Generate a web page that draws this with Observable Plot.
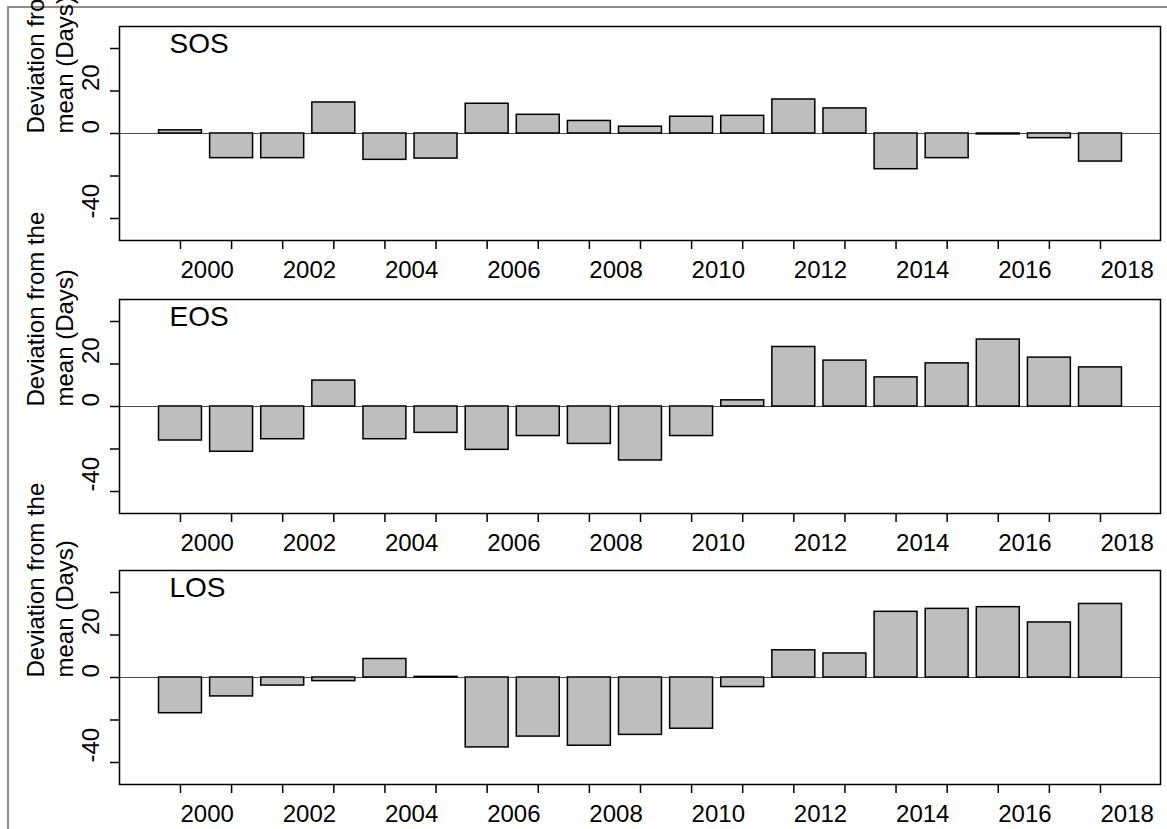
<!DOCTYPE html>
<html>
<head>
<meta charset="utf-8">
<script src="https://cdn.jsdelivr.net/npm/d3@7"></script>
<script src="https://cdn.jsdelivr.net/npm/@observablehq/plot@0.6"></script>
<style>
  html, body { margin: 0; padding: 0; background: #ffffff; }
  #page { position: relative; width: 1167px; height: 829px; overflow: hidden; background: #ffffff; }
  #border { position: absolute; left: 7px; top: 6px; right: 0; bottom: 0;
            border-left: 2px solid #8c8c8c; border-top: 2px solid #8c8c8c; }
  .panel { position: absolute; left: 0; }
</style>
</head>
<body>
<div id="page"><div id="border"></div></div>
<script>
// ---- data ----
const years = [2000, 2001, 2002, 2003, 2004, 2005, 2006, 2007, 2008, 2009,
               2010, 2011, 2012, 2013, 2014, 2015, 2016, 2017, 2018];
const sosValues = [1.5, -11.6, -11.6, 14.6, -12.4, -11.8, 14.0, 8.8, 5.9, 3.2,
                   7.9, 8.3, 16.0, 11.8, -16.8, -11.6, -0.4, -2.2, -13.2];
const eosValues = [-16.0, -21.3, -15.4, 12.2, -15.4, -12.4, -20.4, -13.9, -17.6, -25.4,
                   -13.9, 2.9, 28.0, 21.6, 13.7, 20.3, 31.5, 23.0, 18.4];
const losValues = [-16.8, -8.9, -3.8, -1.7, 8.7, 0.3, -32.9, -27.8, -32.1, -27.0,
                   -24.1, -4.5, 12.8, 11.3, 30.9, 32.3, 33.1, 25.9, 34.6];
const panelNames = ["SOS", "EOS", "LOS"];
const xTickLabels = [2000, 2002, 2004, 2006, 2008, 2010, 2012, 2014, 2016, 2018];
const yTicks = [-40, -20, 0, 20, 40];
const yTickLabels = [20, 0, -40];
const yTitleLines = ["Deviation from the", "mean (Days)"];

// ---- layout constants ----
const W = 1167;
const frameTops = [26, 299, 570];
const frameH = 214;
const mTop = 26, mBottom = 33, mLeft = 119, mRight = 7;
const xDomain = [1998.807, 2019.174];
const yDomain = [-50.35, 50.35];
const barHalf = 0.42;
const FONT = "'Liberation Sans', Arial, Helvetica, sans-serif";

const seriesList = [sosValues, eosValues, losValues];
const page = document.getElementById("page");

seriesList.forEach((vals, i) => {
  const rows = years.map((y, k) => ({year: y, value: vals[k]}));
  const chart = Plot.plot({
    width: W,
    height: mTop + frameH + mBottom,
    marginTop: mTop,
    marginBottom: mBottom,
    marginLeft: mLeft,
    marginRight: mRight,
    style: {background: "transparent", overflow: "visible", fontFamily: FONT, fontSize: "24px", color: "black"},
    x: {domain: xDomain},
    y: {domain: yDomain},
    marks: [
      Plot.ruleY([0], {stroke: "#4d4d4d", strokeWidth: 1.2}),
      Plot.rect(rows, {
        x1: d => d.year - barHalf,
        x2: d => d.year + barHalf,
        y1: 0,
        y2: "value",
        fill: "#bebebe",
        stroke: "black",
        strokeWidth: 1.5
      }),
      Plot.frame({stroke: "black", strokeWidth: 1.5}),
      Plot.axisX({ticks: years, tickSize: 9, tickFormat: () => "", stroke: "black", strokeWidth: 1.5}),
      Plot.axisY({ticks: yTicks, tickSize: 9, tickFormat: () => "", stroke: "black", strokeWidth: 1.5}),
      Plot.text(xTickLabels, {
        x: d => d,
        text: d => String(d),
        frameAnchor: "bottom",
        textAnchor: "start",
        lineAnchor: "top",
        dy: 20,
        fontSize: 24,
        fill: "black"
      }),
      Plot.text(yTickLabels, {
        y: d => d,
        text: d => String(d),
        frameAnchor: "left",
        rotate: -90,
        textAnchor: "start",
        lineAnchor: "bottom",
        dx: -20.7,
        fontSize: 24,
        fill: "black"
      }),
      Plot.text([{y: 0, t: yTitleLines[0]}], {
        y: "y", text: "t",
        frameAnchor: "left",
        rotate: -90,
        textAnchor: "start",
        lineAnchor: "bottom",
        dx: -76,
        fontSize: 24,
        fill: "black"
      }),
      Plot.text([{y: 0, t: yTitleLines[1]}], {
        y: "y", text: "t",
        frameAnchor: "left",
        rotate: -90,
        textAnchor: "start",
        lineAnchor: "bottom",
        dx: -47,
        fontSize: 24,
        fill: "black"
      }),
      Plot.text([panelNames[i]], {
        text: d => d,
        frameAnchor: "top-left",
        textAnchor: "start",
        lineAnchor: "top",
        dx: 50,
        dy: 7,
        fontSize: 28,
        fill: "black"
      })
    ]
  });
  const holder = document.createElement("div");
  holder.className = "panel";
  holder.style.top = (frameTops[i] - mTop) + "px";
  holder.appendChild(chart);
  page.appendChild(holder);
});
</script>
</body>
</html>
